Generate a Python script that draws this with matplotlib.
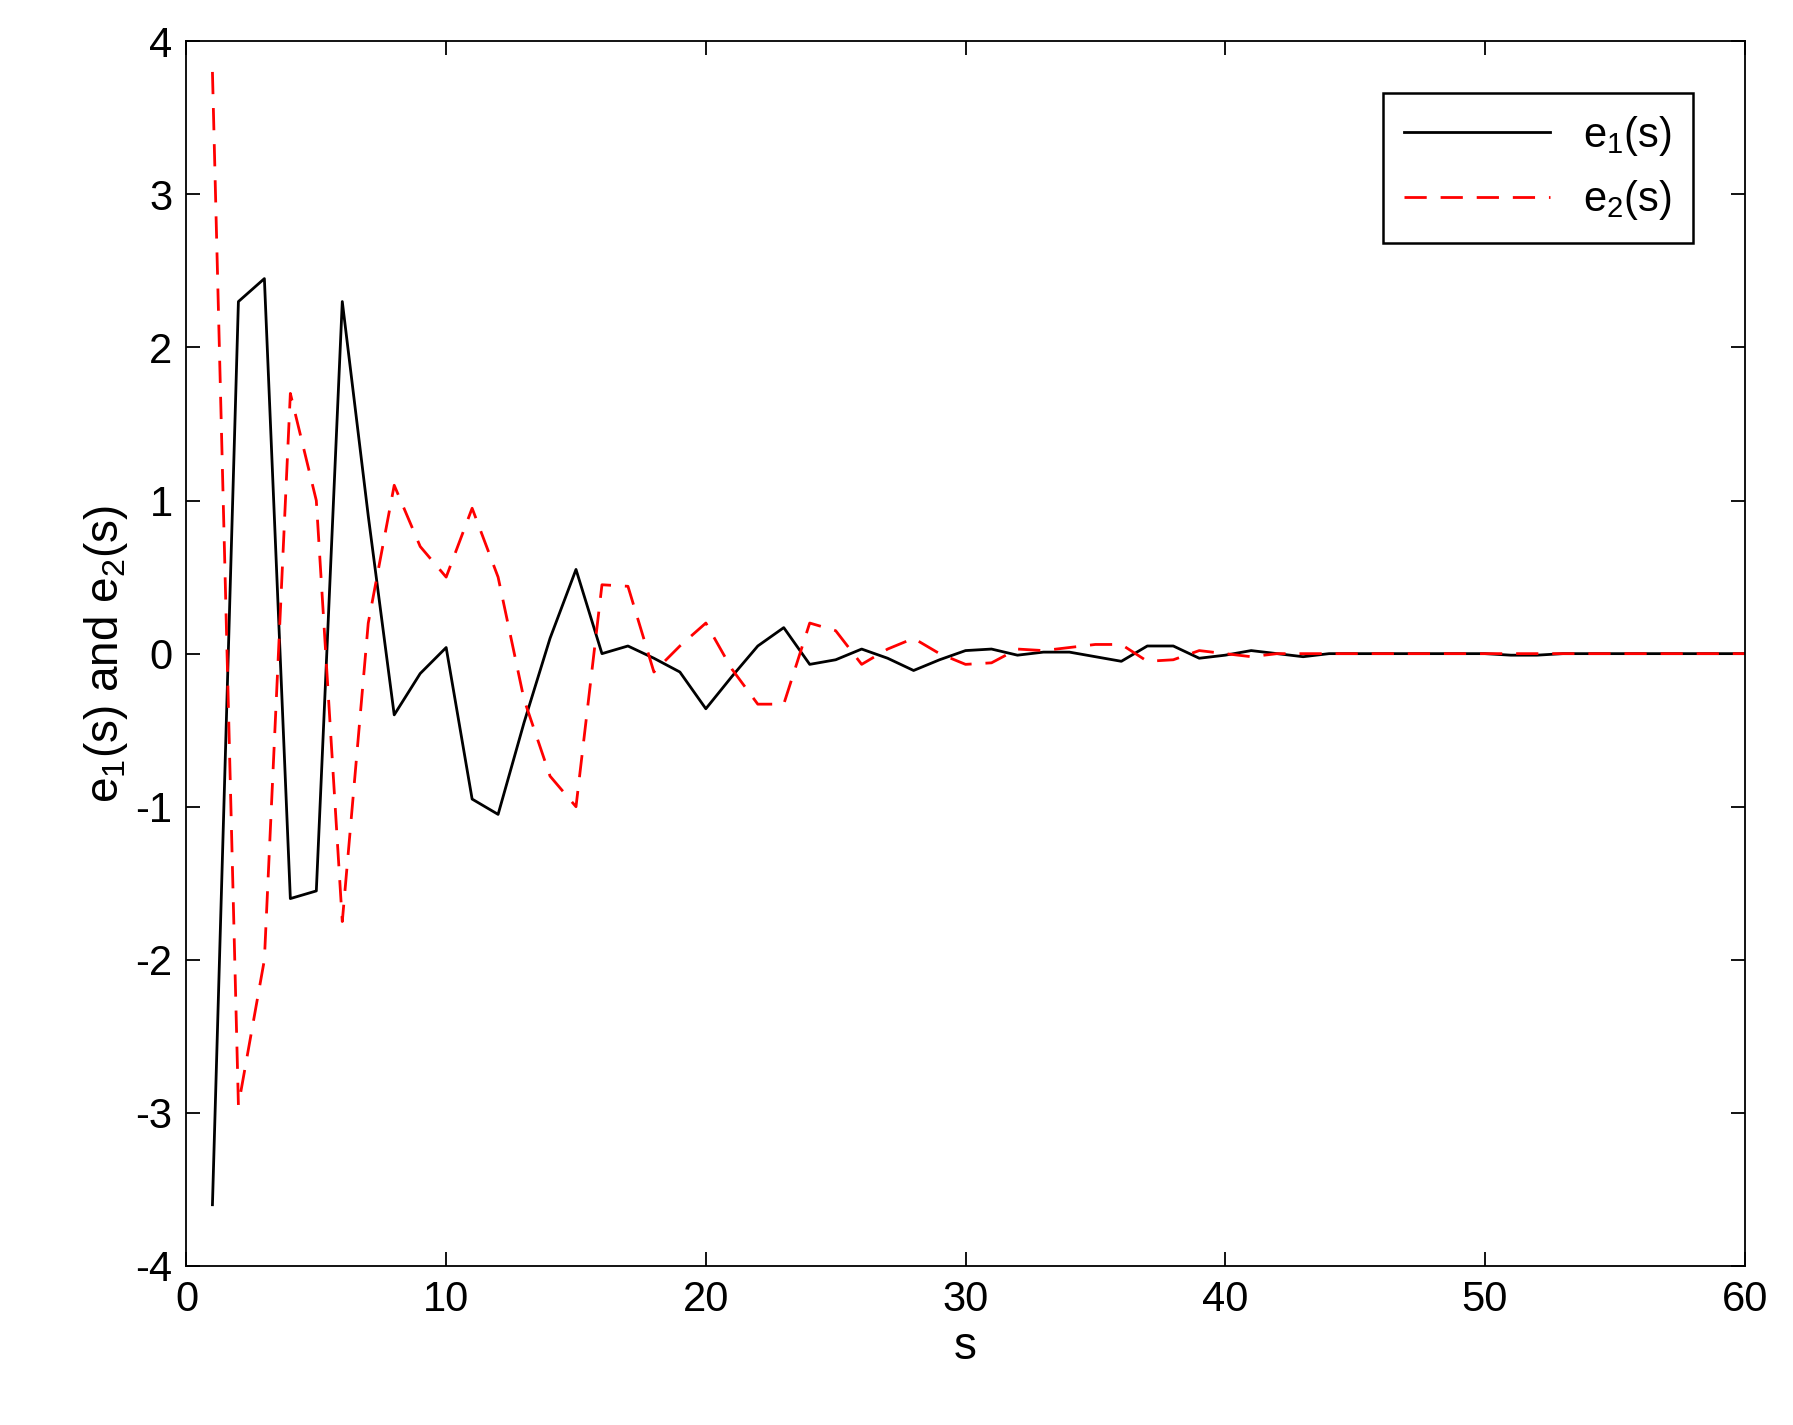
import matplotlib
matplotlib.use("Agg")
import matplotlib.pyplot as plt
import numpy as np

s = list(range(1, 61))
e1 = [-3.6, 2.3, 2.45, -1.6, -1.55, 2.3, 0.9, -0.4, -0.13, 0.04,
      -0.95, -1.05, -0.45, 0.1, 0.55, 0.0, 0.05, -0.03, -0.12, -0.36,
      -0.15, 0.05, 0.17, -0.07, -0.04, 0.03, -0.03, -0.11, -0.04, 0.02,
      0.03, -0.01, 0.01, 0.01, -0.02, -0.05, 0.05, 0.05, -0.03, -0.01,
      0.02, 0.0, -0.02, 0.0, 0.0, 0.0, 0.0, 0.0, 0.0, 0.0,
      -0.01, -0.01, 0.0, 0.0, 0.0, 0.0, 0.0, 0.0, 0.0, 0.0]
e2 = [3.8, -2.95, -2.0, 1.7, 1.0, -1.75, 0.2, 1.1, 0.7, 0.5,
      0.95, 0.5, -0.3, -0.8, -1.0, 0.45, 0.44, -0.12, 0.05, 0.2,
      -0.1, -0.33, -0.33, 0.2, 0.15, -0.07, 0.03, 0.1, 0.0, -0.07,
      -0.06, 0.03, 0.02, 0.04, 0.06, 0.06, -0.05, -0.04, 0.02, 0.0,
      -0.02, 0.0, 0.0, 0.0, 0.0, 0.0, 0.0, 0.0, 0.0, 0.0,
      0.0, 0.0, 0.0, 0.0, 0.0, 0.0, 0.0, 0.0, 0.0, 0.0]
yticks = list(range(-4, 5))

plt.rcParams['font.family'] = ['Liberation Sans', 'DejaVu Sans']
plt.rcParams['mathtext.fontset'] = 'custom'
plt.rcParams['mathtext.rm'] = 'Liberation Sans'
plt.rcParams['mathtext.it'] = 'Liberation Sans'
plt.rcParams['axes.unicode_minus'] = False

fig = plt.figure(figsize=(17.93, 14.25), dpi=100)
ax = fig.add_axes([0.104, 0.1116, 0.869, 0.8594])
ax.plot(s, e1, color='black', lw=2, label=r'e$_1$(s)')
ax.plot(s, e2, color='red', lw=2, ls=(0, (8, 5)), label=r'e$_2$(s)')
ax.set_xlim(0, 60)
ax.set_ylim(-4, 4)
ax.set_xticks(range(0, 61, 10))
ax.set_yticks(yticks)
ax.set_yticklabels([str(v) for v in yticks])
ax.tick_params(direction='in', top=True, right=True, labelsize=30, length=10, width=1.3, pad=10)
for sp in ax.spines.values():
    sp.set_linewidth(1.3)
ax.set_xlabel('s', fontsize=33)
ax.set_ylabel(r'e$_1$(s) and e$_2$(s)', fontsize=33)
leg = ax.legend(loc='upper right', fontsize=30, fancybox=False, edgecolor='black',
                framealpha=1, handlelength=3.5, borderpad=0.5, bbox_to_anchor=(0.98, 0.975))
leg.get_frame().set_linewidth(1.8)
fig.savefig('out.png', dpi=100)
